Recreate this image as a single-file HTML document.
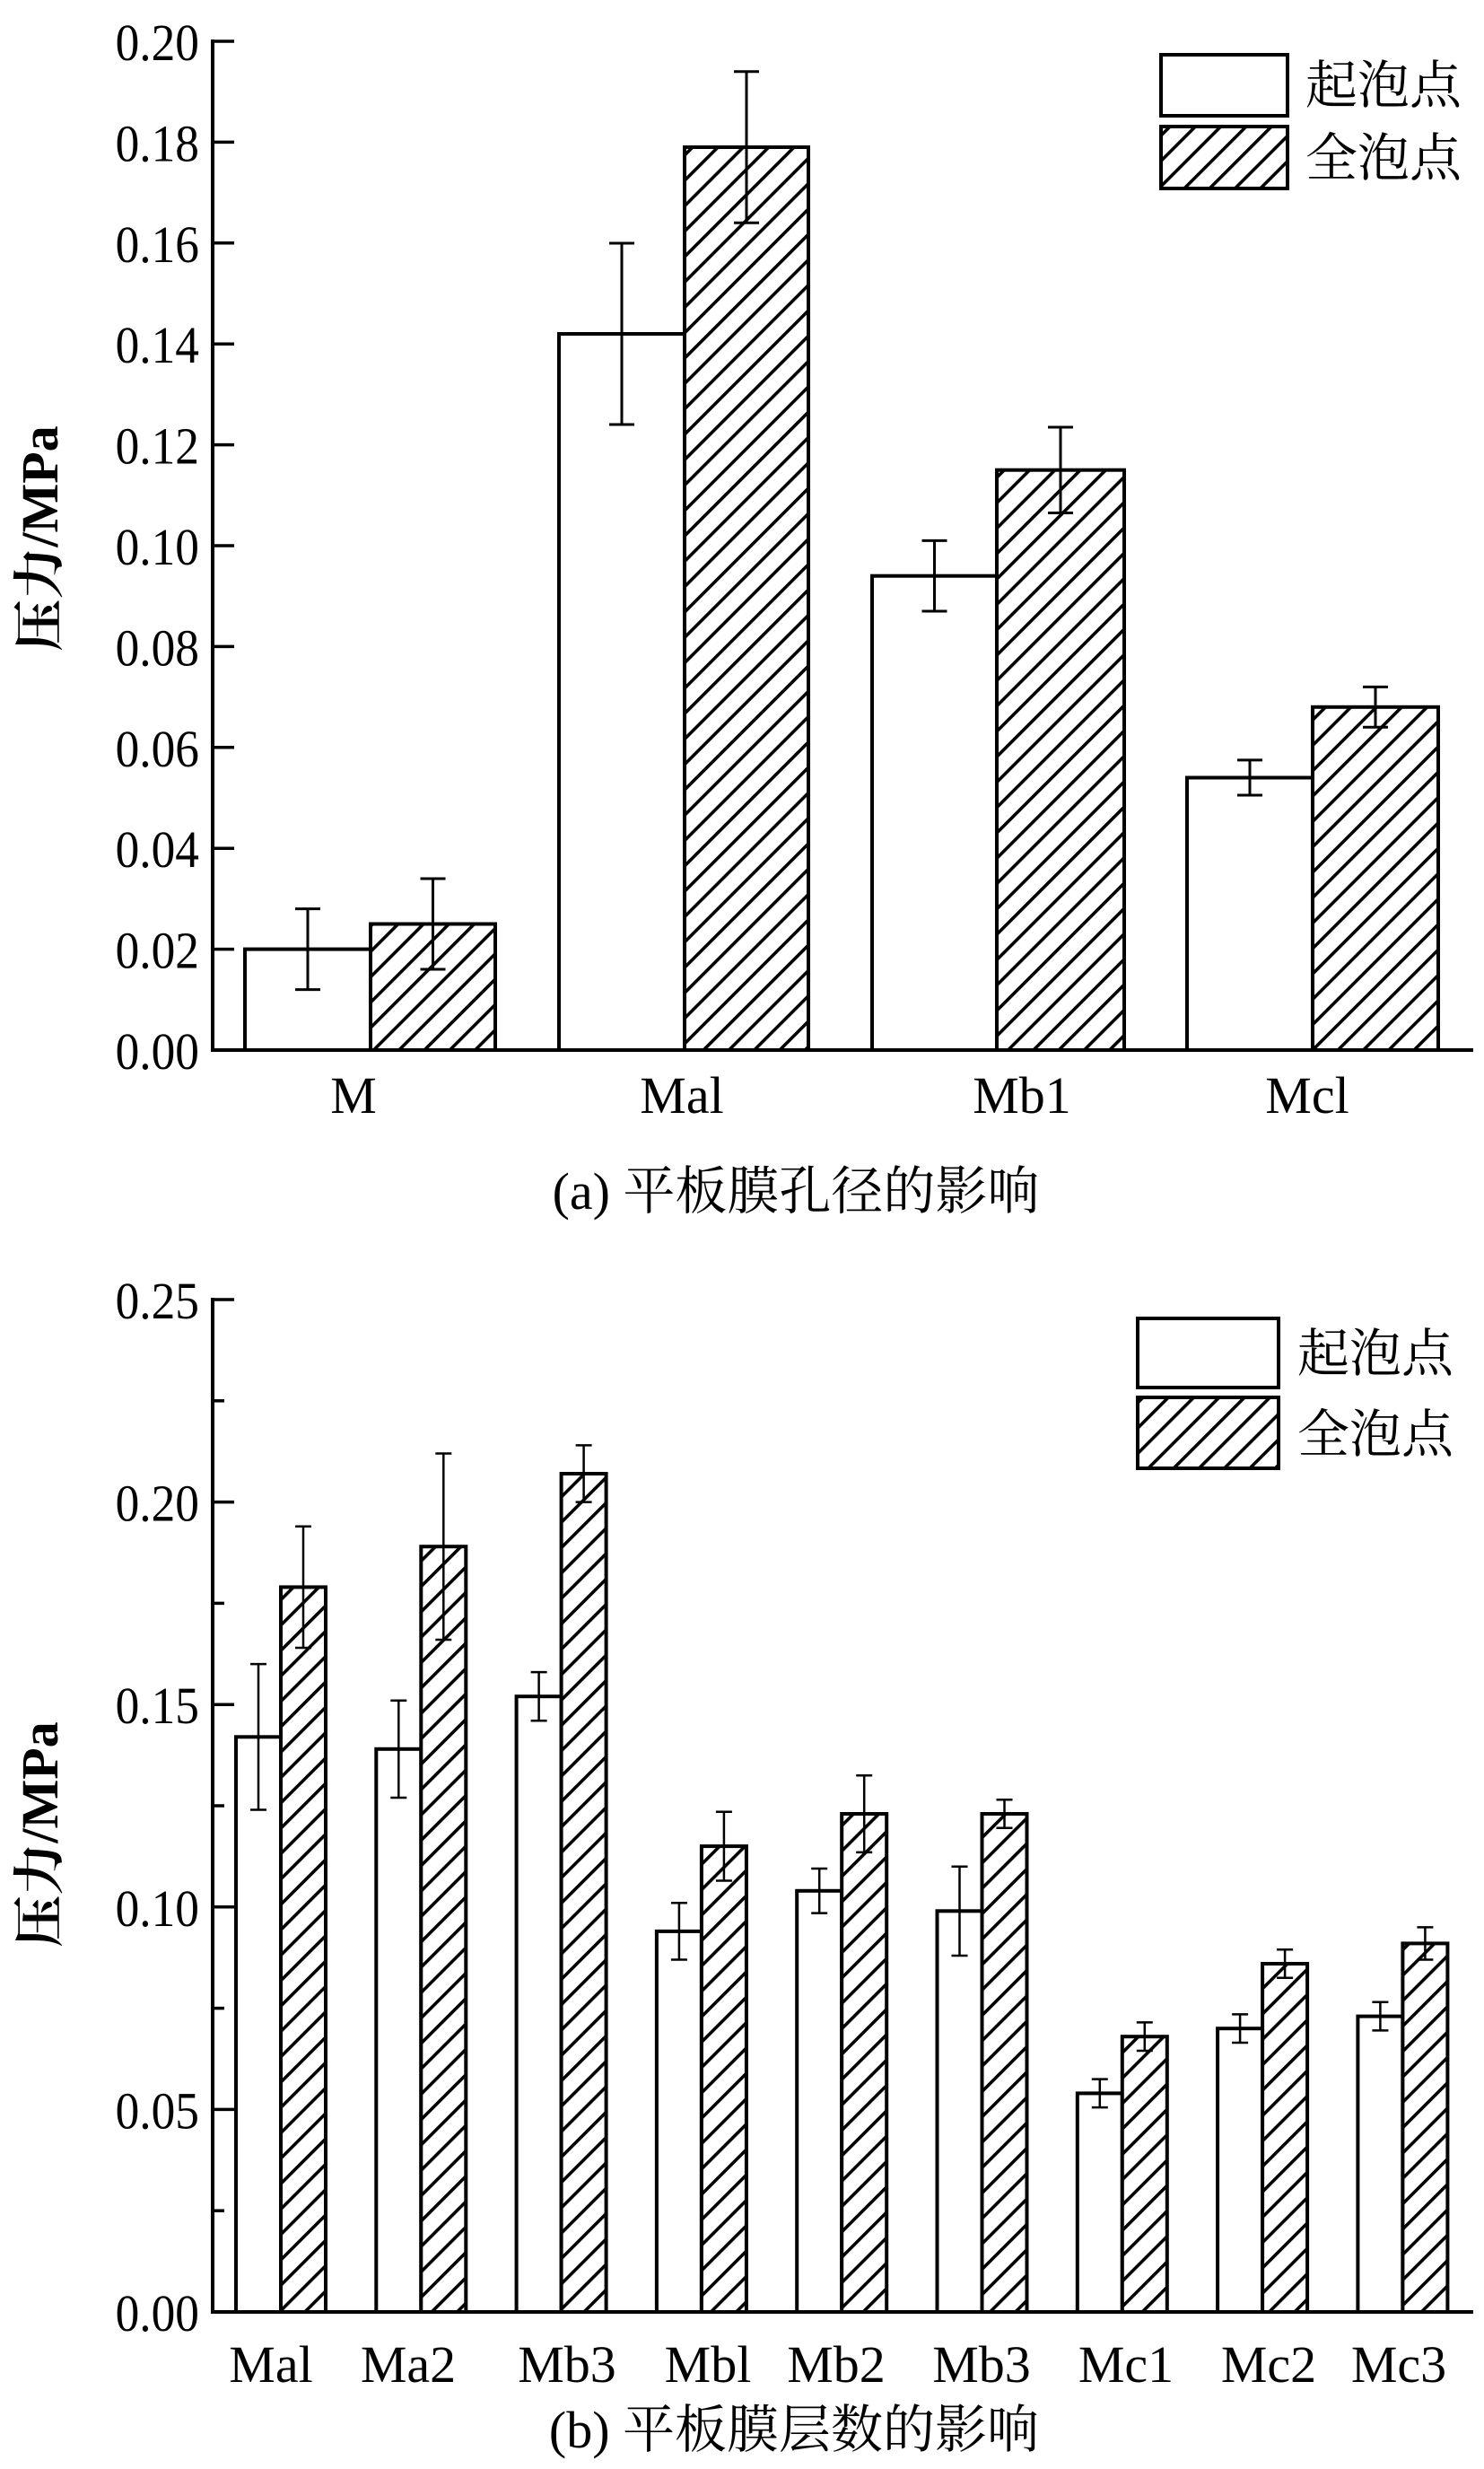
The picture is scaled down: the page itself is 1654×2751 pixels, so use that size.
<!DOCTYPE html>
<html><head><meta charset="utf-8"><style>body{margin:0;background:#fff}svg{display:block}</style></head><body>
<svg width="1654" height="2751" viewBox="0 0 1654 2751" xmlns="http://www.w3.org/2000/svg" font-family="'Liberation Serif','Noto Serif CJK SC',serif">
<defs>
<pattern id="h" patternUnits="userSpaceOnUse" width="20" height="20" patternTransform="rotate(45)">
<rect width="20" height="20" fill="#fff"/><rect x="0" y="0" width="3.6" height="20" fill="#000"/>
</pattern>
</defs>
<rect width="1654" height="2751" fill="#fff"/>
<g stroke="#000" stroke-width="4" fill="none">
<line x1="237" y1="44" x2="237" y2="1172"/>
<line x1="235" y1="1170" x2="1642" y2="1170"/>
<g stroke-width="3.5">
<line x1="237" y1="46" x2="261" y2="46"/><line x1="237" y1="158.4" x2="261" y2="158.4"/><line x1="237" y1="270.8" x2="261" y2="270.8"/><line x1="237" y1="383.2" x2="261" y2="383.2"/><line x1="237" y1="495.6" x2="261" y2="495.6"/><line x1="237" y1="608" x2="261" y2="608"/><line x1="237" y1="720.4" x2="261" y2="720.4"/><line x1="237" y1="832.8" x2="261" y2="832.8"/><line x1="237" y1="945.2" x2="261" y2="945.2"/><line x1="237" y1="1057.6" x2="261" y2="1057.6"/>
</g>
<rect x="273" y="1057.6" width="140" height="112.4" fill="#fff"/>
<rect x="413" y="1029.5" width="139" height="140.5" fill="url(#h)"/>
<rect x="623" y="372" width="140" height="798" fill="#fff"/>
<rect x="763" y="164" width="138" height="1006" fill="url(#h)"/>
<rect x="972" y="641.7" width="139" height="528.3" fill="#fff"/>
<rect x="1111" y="523.7" width="142" height="646.3" fill="url(#h)"/>
<rect x="1323" y="866.5" width="140" height="303.5" fill="#fff"/>
<rect x="1463" y="787.8" width="140" height="382.2" fill="url(#h)"/>
<g stroke-width="3">
<path d="M343 1102.6V1012.6M329 1102.6H357M329 1012.6H357"/>
<path d="M482.5 1080V979M468.5 1080H496.5M468.5 979H496.5"/>
<path d="M693 473V271M679 473H707M679 271H707"/>
<path d="M832 248.3V79.7M818 248.3H846M818 79.7H846"/>
<path d="M1041.5 681V602.4M1027.5 681H1055.5M1027.5 602.4H1055.5"/>
<path d="M1182 571.5V476M1168 571.5H1196M1168 476H1196"/>
<path d="M1393 886V846.9M1379 886H1407M1379 846.9H1407"/>
<path d="M1533 810.3V765.4M1519 810.3H1547M1519 765.4H1547"/>
</g>
<rect x="1294" y="61" width="141" height="68" fill="#fff"/>
<rect x="1294" y="141" width="141" height="69" fill="url(#h)"/>

<line x1="237" y1="1446" x2="237" y2="2578"/>
<line x1="235" y1="2576" x2="1642" y2="2576"/>
<g stroke-width="3.5">
<line x1="237" y1="1448" x2="261" y2="1448"/><line x1="237" y1="1560.8" x2="250" y2="1560.8"/><line x1="237" y1="1673.6" x2="261" y2="1673.6"/><line x1="237" y1="1786.4" x2="250" y2="1786.4"/><line x1="237" y1="1899.2" x2="261" y2="1899.2"/><line x1="237" y1="2012" x2="250" y2="2012"/><line x1="237" y1="2124.8" x2="261" y2="2124.8"/><line x1="237" y1="2237.6" x2="250" y2="2237.6"/><line x1="237" y1="2350.4" x2="261" y2="2350.4"/><line x1="237" y1="2463.2" x2="250" y2="2463.2"/>
</g>
<rect x="263" y="1935.3" width="50" height="640.7" fill="#fff"/><rect x="313" y="1768.4" width="50" height="807.6" fill="url(#h)"/>
<rect x="419.3" y="1948.8" width="50" height="627.2" fill="#fff"/><rect x="469.3" y="1723.2" width="50" height="852.8" fill="url(#h)"/>
<rect x="575.6" y="1890.2" width="50" height="685.8" fill="#fff"/><rect x="625.6" y="1642" width="50" height="934" fill="url(#h)"/>
<rect x="731.9" y="2151.9" width="50" height="424.1" fill="#fff"/><rect x="781.9" y="2057.1" width="50" height="518.9" fill="url(#h)"/>
<rect x="888.2" y="2106.8" width="50" height="469.2" fill="#fff"/><rect x="938.2" y="2021" width="50" height="555" fill="url(#h)"/>
<rect x="1044.5" y="2129.3" width="50" height="446.7" fill="#fff"/><rect x="1094.5" y="2021" width="50" height="555" fill="url(#h)"/>
<rect x="1200.8" y="2332.4" width="50" height="243.6" fill="#fff"/><rect x="1250.8" y="2269.2" width="50" height="306.8" fill="url(#h)"/>
<rect x="1357.1" y="2260.2" width="50" height="315.8" fill="#fff"/><rect x="1407.1" y="2188" width="50" height="388" fill="url(#h)"/>
<rect x="1513.4" y="2246.6" width="50" height="329.4" fill="#fff"/><rect x="1563.4" y="2165.4" width="50" height="410.6" fill="url(#h)"/>
<g stroke-width="2.5">
<path d="M288 2016.5V1854.1M279 2016.5H297M279 1854.1H297"/>
<path d="M338 1836V1700.7M329 1836H347M329 1700.7H347"/>
<path d="M444.3 2003V1894.7M435.3 2003H453.3M435.3 1894.7H453.3"/>
<path d="M494.3 1827V1619.5M485.3 1827H503.3M485.3 1619.5H503.3"/>
<path d="M600.6 1917.2V1863.1M591.6 1917.2H609.6M591.6 1863.1H609.6"/>
<path d="M650.6 1673.6V1610.4M641.6 1673.6H659.6M641.6 1610.4H659.6"/>
<path d="M756.9 2183.5V2120.3M747.9 2183.5H765.9M747.9 2120.3H765.9"/>
<path d="M806.9 2095.5V2018.8M797.9 2095.5H815.9M797.9 2018.8H815.9"/>
<path d="M913.2 2131.6V2082M904.2 2131.6H922.2M904.2 2082H922.2"/>
<path d="M963.2 2063.9V1978.2M954.2 2063.9H972.2M954.2 1978.2H972.2"/>
<path d="M1069.5 2179V2079.7M1060.5 2179H1078.5M1060.5 2079.7H1078.5"/>
<path d="M1119.5 2036.8V2005.2M1110.5 2036.8H1128.5M1110.5 2005.2H1128.5"/>
<path d="M1225.8 2348.1V2316.6M1216.8 2348.1H1234.8M1216.8 2316.6H1234.8"/>
<path d="M1275.8 2285V2253.4M1266.8 2285H1284.8M1266.8 2253.4H1284.8"/>
<path d="M1382.1 2276V2244.4M1373.1 2276H1391.1M1373.1 2244.4H1391.1"/>
<path d="M1432.1 2203.8V2172.2M1423.1 2203.8H1441.1M1423.1 2172.2H1441.1"/>
<path d="M1538.4 2262.4V2230.8M1529.4 2262.4H1547.4M1529.4 2230.8H1547.4"/>
<path d="M1588.4 2183.5V2147.4M1579.4 2183.5H1597.4M1579.4 2147.4H1597.4"/>
</g>
<rect x="1268" y="1469" width="157" height="77" fill="#fff"/>
<rect x="1268" y="1557" width="157" height="79" fill="url(#h)"/>
</g>

<g font-size="58" fill="#000" text-anchor="end">
<g transform="translate(222,0) scale(0.92,1) translate(-222,0)">
<text x="222" y="67">0.20</text><text x="222" y="179.4">0.18</text><text x="222" y="291.8">0.16</text><text x="222" y="404.2">0.14</text><text x="222" y="516.6">0.12</text><text x="222" y="629">0.10</text><text x="222" y="741.4">0.08</text><text x="222" y="853.8">0.06</text><text x="222" y="966.2">0.04</text><text x="222" y="1078.6">0.02</text><text x="222" y="1191">0.00</text>
<text x="222" y="1469">0.25</text><text x="222" y="1694.6">0.20</text><text x="222" y="1920.2">0.15</text><text x="222" y="2145.8">0.10</text><text x="222" y="2371.4">0.05</text><text x="222" y="2597">0.00</text>
</g>
</g>
<g font-size="58" fill="#000" text-anchor="middle">
<text x="394" y="1240">M</text><text x="760" y="1240">Mal</text><text x="1139" y="1240">Mb1</text><text x="1457" y="1240">Mcl</text>
<text x="302" y="2654">Mal</text><text x="455" y="2654">Ma2</text><text x="632" y="2654">Mb3</text><text x="789" y="2654">Mbl</text><text x="932" y="2654">Mb2</text><text x="1094" y="2654">Mb3</text><text x="1255" y="2654">Mc1</text><text x="1414" y="2654">Mc2</text><text x="1559" y="2654">Mc3</text>
<text x="887" y="1347">(a) 平板膜孔径的影响</text>
<text x="885" y="2727">(b) 平板膜层数的影响</text>
<text transform="translate(64,600) rotate(-90)" font-weight="bold">压力/MPa</text>
<text transform="translate(64,2044) rotate(-90)" font-weight="bold">压力/MPa</text>
</g>
<g font-size="58" fill="#000">
<text x="1455" y="115">起泡点</text><text x="1455" y="196">全泡点</text>
<text x="1446" y="1528">起泡点</text><text x="1446" y="1618">全泡点</text>
</g>
</svg>
</body></html>
